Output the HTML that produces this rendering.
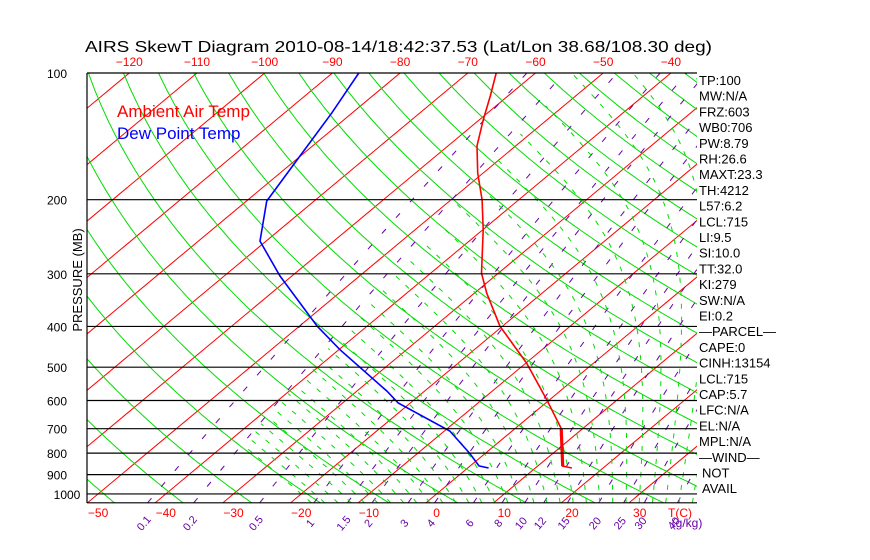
<!DOCTYPE html>
<html><head><meta charset="utf-8"><title>AIRS SkewT</title>
<style>
html,body{margin:0;padding:0;background:#fff;}
svg{display:block;font-family:"Liberation Sans",sans-serif;}
</style></head>
<body>
<svg id="chart" width="870" height="560" viewBox="0 0 870 560" xmlns="http://www.w3.org/2000/svg">
<defs>
<clipPath id="plotclip"><rect x="87" y="73" width="610" height="430"/></clipPath>
<clipPath id="moistclip"><polygon points="190,503 575,73 697,73 697,503"/></clipPath>
</defs>
<rect x="0" y="0" width="870" height="560" fill="#fff"/>
<text x="85" y="52" font-size="16" textLength="627" lengthAdjust="spacingAndGlyphs" fill="#000">AIRS SkewT Diagram 2010-08-14/18:42:37.53 (Lat/Lon 38.68/108.30 deg)</text>
<g id="grid" clip-path="url(#plotclip)"></g>
<g clip-path="url(#plotclip)"><g id="moist" clip-path="url(#moistclip)"></g></g>
<g id="series" clip-path="url(#plotclip)"></g>
<g id="axes"></g>
<text x="117" y="117" font-size="17" fill="#ff0000">Ambient Air Temp</text>
<text x="117" y="139" font-size="17" fill="#0000ff">Dew Point Temp</text>
<text transform="translate(82,280) rotate(-90)" text-anchor="middle" font-size="13" fill="#000">PRESSURE (MB)</text>
<g id="info"></g>
</svg>
<script>
// ---- data ----
const pressureTicks = [100,200,300,400,500,600,700,800,900,1000];
const topTempTicks = [-120,-110,-100,-90,-80,-70,-60,-50,-40];
const bottomTempTicks = [-50,-40,-30,-20,-10,0,10,20,30];
const mixingRatios = [0.1,0.2,0.5,1,1.5,2,3,4,6,8,10,12,15,20,25,30,40];
const tempPressure = [100,113.4,129.3,149.1,172.9,200.2,236,298.9,333.3,399.3,488.9,598.9,699,859,868];
const tempValues = [-65.8,-62.6,-59.4,-55.7,-50.8,-45.4,-39.9,-32.5,-28.2,-20.4,-9.9,-0.3,6.8,13.7,15.4];
const dewPressure = [100,124.5,163.6,201.5,250.8,303.4,399.3,454.6,569.6,608,709,801,858,868];
const dewValues = [-86.1,-83,-79.6,-77,-70.9,-61.8,-47.4,-39.8,-25.6,-21.8,-9.2,-2.3,1.3,3.1];
const infoLabels = ["TP:100","MW:N/A","FRZ:603","WB0:706","PW:8.79","RH:26.6","MAXT:23.3","TH:4212","L57:6.2","LCL:715","LI:9.5","SI:10.0","TT:32.0","KI:279","SW:N/A","EI:0.2","\u2014PARCEL\u2014","CAPE:0","CINH:13154","LCL:715","CAP:5.7","LFC:N/A","EL:N/A","MPL:N/A","\u2014WIND\u2014","NOT","AVAIL"];

// ---- scales ----
const NS="http://www.w3.org/2000/svg";
function Y(p){return 73+182.8*Math.log(p/100);}
function X(T,p){return 98+(T+50)*6.77+1.2*(494-Y(p));}
const PBOT=1050, PTOP=100;
function mk(tag,attrs,parent){const e=document.createElementNS(NS,tag);for(const k in attrs)e.setAttribute(k,attrs[k]);parent.appendChild(e);return e;}
const grid=document.getElementById('grid'), moist=document.getElementById('moist'), series=document.getElementById('series'), axes=document.getElementById('axes'), info=document.getElementById('info');
function pts(arr){return arr.map(a=>a[0].toFixed(1)+','+a[1].toFixed(1)).join(' ');}

// isotherms
for(let T=-170;T<=60;T+=10){
  const l=mk('line',{x1:X(T,PBOT),y1:Y(PBOT),x2:X(T,PTOP),y2:Y(PTOP),stroke:'#ff0000','stroke-width':1},grid);
  
  
}
// dry adiabats
for(let th=204;th<=604;th+=10){
  const a=[];for(let p=PBOT;p>=PTOP;p-=10){const T=th*Math.pow(p/1000,0.2857)-273.15;a.push([X(T,p),Y(p)]);}
  const l=mk('polyline',{points:pts(a),fill:'none',stroke:'#00dd00','stroke-width':1},grid);
  
  
}
// moist adiabats
function es(Tc){return 6.112*Math.exp(17.67*Tc/(Tc+243.5));}
function dTdp(Tk,p){const rs=0.622*es(Tk-273.15)/(p-es(Tk-273.15));return (287*Tk+2.5e6*rs)/(p*(1004+2.5e6*2.5e6*rs*0.622/(287*Tk*Tk)));}
for(let T0=-20;T0<=40;T0+=2){
  let Tk=T0+273.15,p=1000;
  const down=[];let Td=Tk;for(let pp=1000;pp<=PBOT;pp+=5){down.push([X(Td-273.15,pp),Y(pp)]);Td+=dTdp(Td,pp)*5;}
  const a=down.reverse();
  for(p=1000;p>PTOP;p-=5){Tk-=dTdp(Tk,p)*5;a.push([X(Tk-273.15,p-5),Y(p-5)]);}
  const l=mk('polyline',{points:pts(a),fill:'none',stroke:'#00dd00','stroke-width':1,'stroke-dasharray':'5 8'},moist);
  
  
}
// mixing ratio lines
function tdFromW(w,p){const e=w*p/(622+w);const a=Math.log(e/6.112);return 243.5*a/(17.67-a);}
mixingRatios.forEach(w=>{
  const a=[];for(let p=PBOT;p>=PTOP;p-=25){a.push([X(tdFromW(w,p),p),Y(p)]);}
  const l=mk('polyline',{points:pts(a),fill:'none',stroke:'#6600aa','stroke-width':1,'stroke-dasharray':'6 15'},grid);
  
  
  const lx=X(tdFromW(w,PBOT),PBOT)-4;
  const t=mk('text',{x:lx,y:527,'font-size':11,fill:'#6600aa','text-anchor':'middle',transform:'rotate(-50 '+lx+' 523)'},axes);
  t.textContent=String(w);
  
  
});
// pressure lines
pressureTicks.concat([PBOT]).forEach(p=>{
  const l=mk('line',{x1:87,y1:Y(p),x2:697,y2:Y(p),stroke:'#000','stroke-width':1.2},axes);
  
  
});
pressureTicks.forEach(p=>{
  const t=mk('text',{x:p===1000?67:57,y:Y(p)+5,'font-size':12,'text-anchor':'middle',fill:'#000'},axes);
  t.textContent=String(p);
  
  
});
const lb=mk('line',{x1:87,y1:73,x2:87,y2:503,stroke:'#000','stroke-width':1.2},axes);


topTempTicks.forEach(T=>{
  const t=mk('text',{x:X(T,100),y:66,'font-size':12,'text-anchor':'middle',fill:'#ff0000'},axes);
  t.textContent=T<0?'\u2212'+(-T):String(T);
  
  
});
bottomTempTicks.forEach(T=>{
  const t=mk('text',{x:X(T,1000),y:517,'font-size':12,'text-anchor':'middle',fill:'#ff0000'},axes);
  t.textContent=T<0?'\u2212'+(-T):String(T);
  
  
});
const tc=mk('text',{x:680,y:517,'font-size':12,'text-anchor':'middle',fill:'#ff0000'},axes);
tc.textContent='T(C)';


const gk=mk('text',{x:687,y:527,'font-size':12,'text-anchor':'middle',fill:'#6600aa'},axes);
gk.textContent='(g/kg)';



// series
const tp=mk('polyline',{points:pts(tempPressure.map((p,i)=>[X(tempValues[i],p),Y(p)])),fill:'none',stroke:'#ff0000','stroke-width':1.6},series);


const thick=mk('line',{x1:X(tempValues[12],tempPressure[12]),y1:Y(tempPressure[12]),x2:X(tempValues[13],tempPressure[13]),y2:Y(tempPressure[13]),stroke:'#ff0000','stroke-width':3.2},series);


const dp=mk('polyline',{points:pts(dewPressure.map((p,i)=>[X(dewValues[i],p),Y(p)])),fill:'none',stroke:'#0000ff','stroke-width':1.6},series);



// info labels
infoLabels.forEach((s,i)=>{
  const t=mk('text',{x:(s==='NOT'||s==='AVAIL')?702:699,y:85+i*15.7,'font-size':13,fill:'#000'},info);
  t.textContent=s;
  
  
});
</script>
</body></html>
